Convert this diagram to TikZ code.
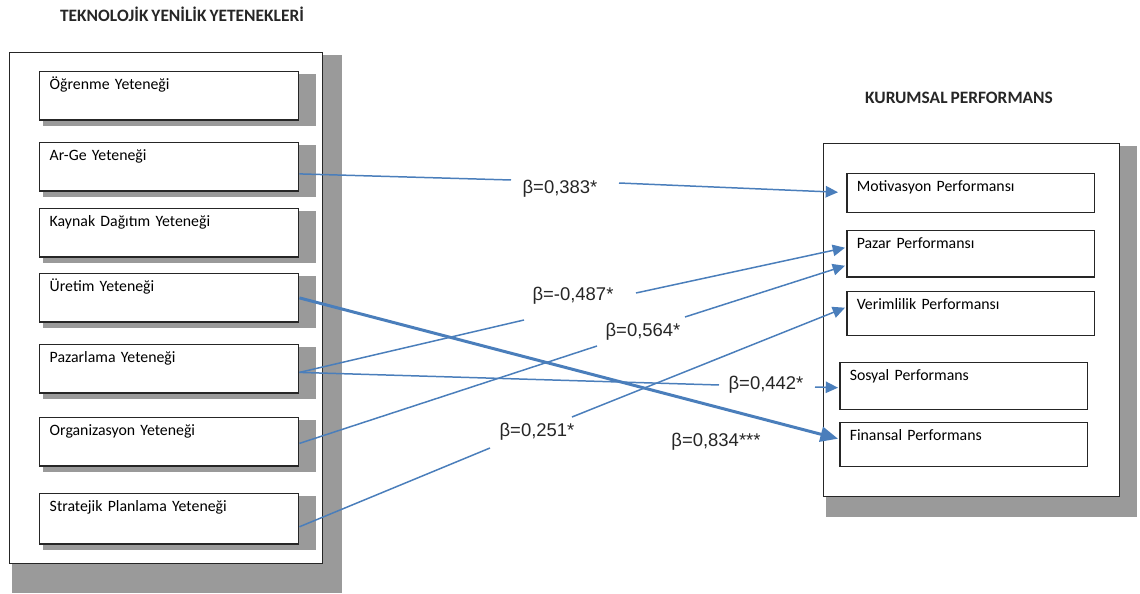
\documentclass[tikz,border=0pt]{standalone}
\usepackage{fontspec}
\setmainfont{Carlito}[WordSpace=0.75]
\newfontfamily\arialfont{Liberation Sans}
\usetikzlibrary{arrows.meta, calc, backgrounds}
\definecolor{cblue}{HTML}{4A7EBB}
\definecolor{cshade}{HTML}{9A9A9A}
\definecolor{cdark}{HTML}{262626}
\tikzset{
  every picture/.style={line width=0.85pt},
  capbox/.style={draw=cdark, fill=white, anchor=north west, align=left,
    font=\fontsize{9}{11}\selectfont, inner xsep=0.2cm, inner ysep=2pt,
    text width=4.78cm, text height=8pt, text depth=#1},
  capbox/.default=15.5pt,
  perfbox/.style={capbox=#1, text width=4.56cm},
  head/.style={font=\fontsize{9.9}{12}\selectfont\bfseries, text=cdark},
  beta/.style={font=\arialfont\fontsize{10.5}{12}\selectfont, text=cdark, inner sep=0pt},
  link/.style={draw=cblue, line width=0.85pt},
  linkarrow/.style={link, -{Triangle[length=7pt, width=6.5pt]}},
}

\begin{document}
\begin{tikzpicture}[x=0.02cm, y=-0.02cm]
  \useasboundingbox (0,0) rectangle (1140,594);
  \node[head] (lefttitle) at (182,14) {TEKNOLOJİK YENİLİK YETENEKLERİ};
  \node[head] (righttitle) at (959,98) {KURUMSAL PERFORMANS};

  % yetenekler
  \node[capbox] (ogren) at (39,71) {Öğrenme Yeteneği};
  \node[capbox] (arge) at (39,142) {Ar-Ge Yeteneği};
  \node[capbox] (kaynak) at (39,208) {Kaynak Dağıtım Yeteneği};
  \node[capbox] (uretim) at (39,273) {Üretim Yeteneği};
  \node[capbox] (pazarl) at (39,344) {Pazarlama Yeteneği};
  \node[capbox] (organ) at (39,417) {Organizasyon Yeteneği};
  \node[capbox=16.5pt] (strat) at (39,493) {Stratejik Planlama Yeteneği};

  % performans
  \node[perfbox=10.2pt] (motiv) at (846,173) {Motivasyon Performansı};
  \node[perfbox=14.2pt] (pazar) at (846,230) {Pazar Performansı};
  \node[perfbox=13pt] (verim) at (846,291) {Verimlilik Performansı};
  \node[perfbox=14.7pt] (sosyal) at (839,362) {Sosyal Performans};
  \node[perfbox=13pt] (finans) at (839,422) {Finansal Performans};

  \begin{scope}[on background layer]
    \fill[cshade] (12,55) rectangle (342,593);
    \draw[draw=cdark, fill=white] (9,52) rectangle (322,563);
    \fill[cshade] (826,146) rectangle (1137,517);
    \draw[draw=cdark, fill=white] (823,143) rectangle (1119,496);
    \foreach \b in {ogren,arge,kaynak,uretim,pazarl,organ,strat}
      \fill[cshade] ($(\b.north west)+(4,3)$) rectangle ($(\b.south east)+(17,5)$);
  \end{scope}

  % katsayilar
  \node[beta] (l383) at (560,189) {β=0,383*};
  \node[beta] (l487) at (573,296) {β=-0,487*};
  \node[beta] (l564) at (643,332) {β=0,564*};
  \node[beta] (l442) at (766,385) {β=0,442*};
  \node[beta] (l251) at (537,432) {β=0,251*};
  \node[beta] (l834) at (716,442) {β=0,834***};

  \coordinate (g383a) at (511,180);
  \coordinate (g383b) at (619,183);
  \coordinate (g487a) at (524,320);
  \coordinate (g487b) at (636,293);
  \coordinate (g564a) at (597,346);
  \coordinate (g564b) at (685,317);
  \coordinate (g442a) at (719,385);
  \coordinate (g442b) at (815,387);
  \coordinate (g251a) at (490,448);
  \coordinate (g251b) at (572,417);

  \draw[link] ($(arge.east)+(0,7)$) -- (g383a);
  \draw[linkarrow] (g383b) -- ($(motiv.west)+(-8,-1)$);
  \draw[link] ($(pazarl.east)+(0,3.5)$) -- (g487a);
  \draw[linkarrow] (g487b) -- ($(pazar.west)+(-1,-6)$);
  \draw[link] ($(organ.east)+(0,1.5)$) -- (g564a);
  \draw[linkarrow] (g564b) -- ($(pazar.west)+(-1,12)$);
  \draw[link] ($(pazarl.east)+(0,3.5)$) -- (g442a);
  \draw[linkarrow] (g442b) -- ($(sosyal.west)+(-1,1.5)$);
  \draw[link] ($(strat.east)+(0,8)$) -- (g251a);
  \draw[linkarrow] (g251b) -- ($(verim.west)+(-1,-6)$);
  \draw[link, line width=1.7pt, -{Triangle[length=10pt, width=8.5pt]}] (uretim.east) -- ($(finans.west)+(-1,-6)$);
\end{tikzpicture}
\end{document}
